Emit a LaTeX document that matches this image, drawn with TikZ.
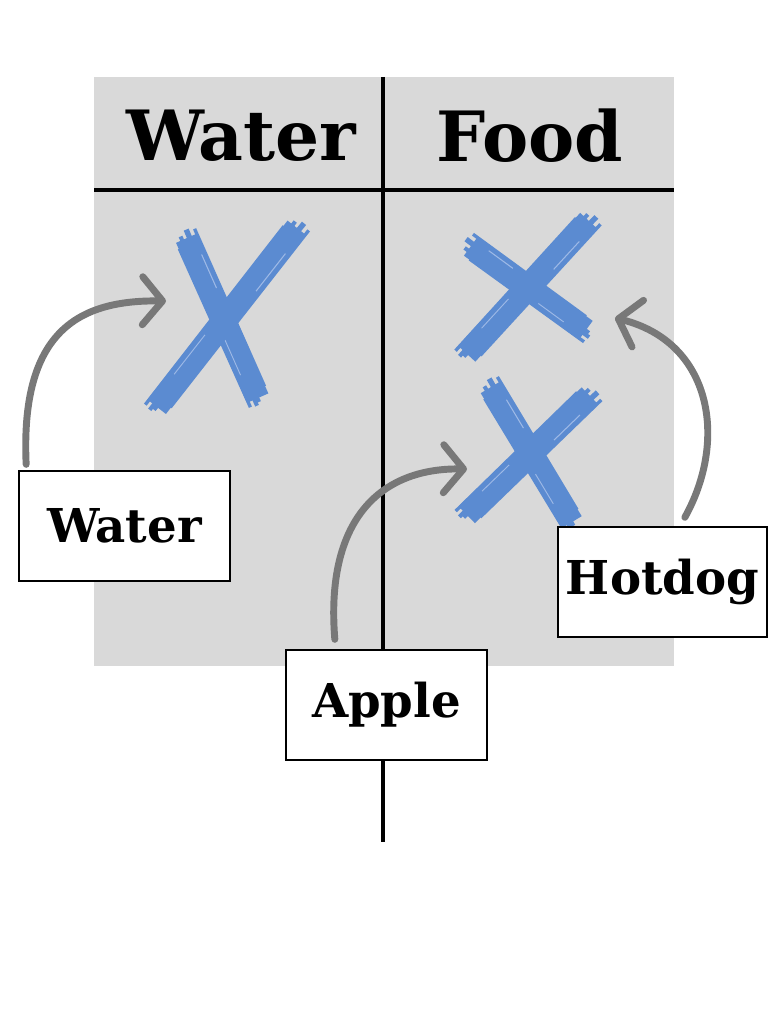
\documentclass[tikz,border=0pt]{standalone}
\usepackage{fontspec}
\setmainfont{DejaVu Serif}
\usetikzlibrary{arrows.meta,calc}
\definecolor{panelgray}{HTML}{D9D9D9}
\definecolor{xblue}{HTML}{5B8BD1}
\definecolor{xlight}{HTML}{9DB9E6}
\definecolor{arrowgray}{HTML}{787878}
\tikzset{
  divider/.style={line width=3pt, black},
  labelbox/.style={draw=black, line width=1.5pt, fill=white, minimum width=158pt, minimum height=82pt, inner sep=0pt, font=\bfseries\fontsize{35}{38}\selectfont},
  header/.style={font=\bfseries\fontsize{52}{56}\selectfont, inner sep=0pt},
  curvearrow/.style={arrowgray, line width=5.2pt, line cap=round, -{Straight Barb[length=15pt, width=36pt, line width=5.2pt, round]}},
}
\newcommand\brushstroke[4]{%
  \path (#1,#2) coordinate (bsA) (#3,#4) coordinate (bsB);
  \fill[xblue] ($(bsA)!8pt!90:(bsB)$) -- ($(bsB)!8.5pt!-90:(bsA)$) -- ($(bsB)!9pt!90:(bsA)$) -- ($(bsA)!9pt!-90:(bsB)$) -- cycle;
  \draw[xblue, line width=2.5pt] ($(bsA)!-4pt!(bsB)!8pt!90:(bsB)$) -- ($(bsB)!6pt!(bsA)!8pt!-90:(bsA)$);
  \draw[xblue, line width=2.5pt] ($(bsA)!5pt!(bsB)!8.5pt!-90:(bsB)$) -- ($(bsB)!-4pt!(bsA)!8pt!90:(bsA)$);
  \draw[xblue, line width=4pt] ($(bsA)!-6pt!(bsB)!2pt!90:(bsB)$) -- ($(bsB)!-3pt!(bsA)!1pt!90:(bsA)$);
  \draw[xblue, line width=3pt] ($(bsA)!-3pt!(bsB)!-4pt!90:(bsB)$) -- ($(bsB)!-5pt!(bsA)!-3pt!-90:(bsA)$);
  \draw[xlight, line width=0.8pt] ($(bsA)!0.12!(bsB)!5pt!90:(bsB)$) -- ($(bsA)!0.33!(bsB)!5pt!90:(bsB)$);
  \draw[xlight, line width=0.7pt] ($(bsA)!0.62!(bsB)!-5pt!90:(bsB)$) -- ($(bsA)!0.84!(bsB)!-5pt!90:(bsB)$);
}
\begin{document}
\begin{tikzpicture}[x=0.75pt, y=-0.75pt]
\useasboundingbox (0,0) rectangle (768,1024);
\fill[white] (0,0) rectangle (768,1024);
% panel
\fill[panelgray] (94,77) rectangle (674,666);
\draw[divider] (383,77) coordinate (vtop) -- (383,842) coordinate (vbot);
\draw[divider] (94,190) coordinate (hleft) -- (674,190) coordinate (hright);
% headers
\node[header] (hwater) at (241,136) {Water};
\node[header] (hfood) at (530,136) {Food};
% crosses
\brushstroke{187}{238}{258}{398}
\brushstroke{297}{228}{157}{407}
\brushstroke{471}{246}{586}{330}
\brushstroke{589}{221}{467}{354}
\brushstroke{491}{387}{572}{522}
\brushstroke{590}{396}{467}{515}
% label boxes
\node[labelbox, minimum width=158pt, minimum height=82pt] (bwater) at (124.5,526) {Water};
\node[labelbox, minimum width=151pt, minimum height=82pt] (bapple) at (386.5,705) {Apple};
\node[labelbox, minimum width=157pt, minimum height=82pt] (bhotdog) at (662.5,582) {Hotdog};
% arrow ends
\coordinate (wend) at (166,301);
\coordinate (aend) at (467,469);
\coordinate (hend) at (615,318);
\draw[curvearrow] ($(bwater.north west)+(8,-6)$) .. controls (20,330) and (80,300) .. (wend);
\draw[curvearrow] ($(bapple.north west)+(50,-10)$) .. controls (325,520) and (380,468) .. (aend);
\draw[curvearrow] ($(bhotdog.north west)+(128,-9)$) .. controls (728,440) and (712,342) .. (hend);
\end{tikzpicture}
\end{document}
